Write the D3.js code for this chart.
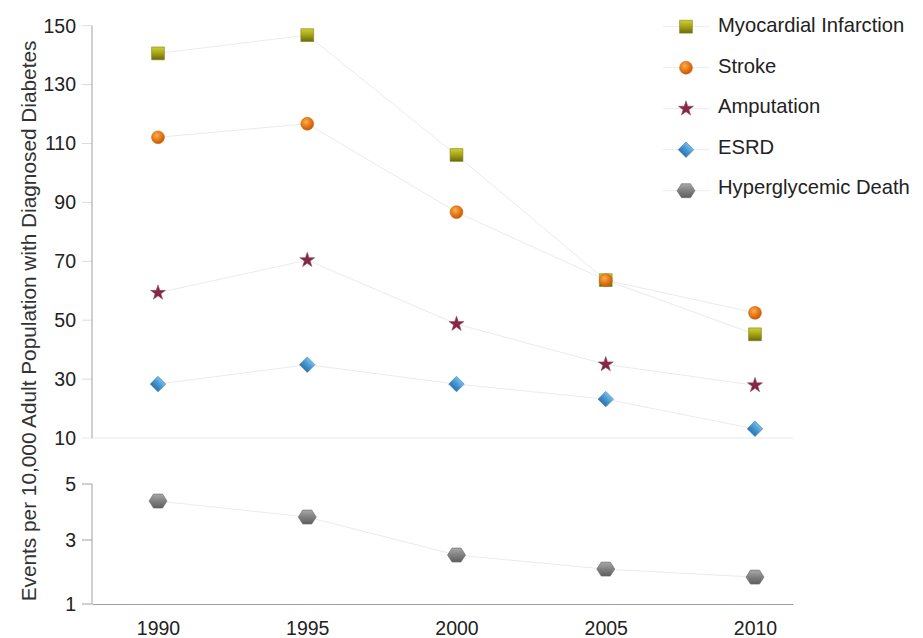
<!DOCTYPE html>
<html>
<head>
<meta charset="utf-8">
<script src="https://cdn.jsdelivr.net/npm/d3@7"></script>
<style>
  html, body { margin: 0; padding: 0; background: #fff; }
  svg { display: block; font-family: "Liberation Sans", Arial, Helvetica, sans-serif; }
</style>
</head>
<body>
<svg id="chart" width="923" height="638"></svg>
<script>
// ---- data ----
const years = [1990, 1995, 2000, 2005, 2010];
const seriesNames = ["Myocardial Infarction", "Stroke", "Amputation", "ESRD", "Hyperglycemic Death"];
const myocardial = [140.6, 146.8, 106.1, 63.6, 45.2];
const stroke = [112.1, 116.7, 86.7, 63.6, 52.5];
const amputation = [59.3, 70.4, 48.7, 35.0, 27.9];
const esrd = [28.3, 34.9, 28.3, 23.2, 13.1];
const hyperglycemic = [4.39, 3.82, 2.53, 2.09, 1.84];
const upperTicks = [10, 30, 50, 70, 90, 110, 130, 150];
const lowerTicks = [1, 3, 5];
const yTitle = "Events per 10,000 Adult Population with Diagnosed Diabetes";

// ---- layout ----
const svg = d3.select("#chart");
const axisLeft = 92, axisRight = 793;
const x = d3.scaleLinear().domain([1990, 2010]).range([158, 755]);
const xDomainExt = [x.invert(axisLeft), x.invert(axisRight)];
const xAxisScale = d3.scaleLinear().domain(xDomainExt).range([axisLeft, axisRight]);
const yTop = d3.scaleLinear().domain([10, 150]).range([438, 25.7]);
const yBot = d3.scaleLinear().domain([1, 3, 5]).range([604, 540, 484]);
const tickFont = 19.5;

// ---- gradients ----
const defs = svg.append("defs");
function linGrad(id, stops, x1, y1, x2, y2) {
  const g = defs.append("linearGradient").attr("id", id)
    .attr("x1", x1).attr("y1", y1).attr("x2", x2).attr("y2", y2);
  stops.forEach(s => g.append("stop").attr("offset", s[0]).attr("stop-color", s[1]));
}
function radGrad(id, stops, cx, cy, r) {
  const g = defs.append("radialGradient").attr("id", id)
    .attr("cx", cx).attr("cy", cy).attr("r", r);
  stops.forEach(s => g.append("stop").attr("offset", s[0]).attr("stop-color", s[1]));
}
linGrad("gSquare", [["0%", "#cfcf30"], ["45%", "#a8a818"], ["100%", "#6a6a0c"]], "0", "0", "0", "1");
radGrad("gCircle", [["0%", "#f8b050"], ["55%", "#e87a18"], ["100%", "#c45a08"]], "40%", "35%", "65%");
radGrad("gStar", [["0%", "#8a2a4a"], ["70%", "#7a1f3e"], ["100%", "#a05070"]], "50%", "50%", "60%");
linGrad("gDiamond", [["0%", "#78bde8"], ["50%", "#4596d0"], ["100%", "#2c74b0"]], "0", "0", "0", "1");
linGrad("gHex", [["0%", "#a8a8a8"], ["50%", "#808080"], ["100%", "#5e5e5e"]], "0", "0", "0", "1");

// ---- marker shapes ----
function hexPath(w, h) {
  const pts = [[-w / 2, 0], [-w / 4, -h / 2], [w / 4, -h / 2], [w / 2, 0], [w / 4, h / 2], [-w / 4, h / 2]];
  return d3.line()(pts) + "Z";
}
const markers = [
  { path: d3.symbol(d3.symbolSquare, 164)(), fill: "url(#gSquare)", stroke: "#80801a", rot: 0 },
  { path: d3.symbol(d3.symbolCircle, 130)(), fill: "url(#gCircle)", stroke: "#d06a10", rot: 0 },
  { path: d3.symbol(d3.symbolStar, 70)(), fill: "url(#gStar)", stroke: "#9a4a68", rot: 0 },
  { path: d3.symbol(d3.symbolSquare, 120)(), fill: "url(#gDiamond)", stroke: "#3a80ba", rot: 45 },
  { path: hexPath(18, 14), fill: "url(#gHex)", stroke: "#6a6a6a", rot: 0 }
];

// ---- axes ----
const upperG = svg.append("g");
upperG.selectAll("line.tick").data(upperTicks).join("line")
  .attr("x1", 82).attr("x2", d => d === 10 ? axisRight : axisLeft)
  .attr("y1", d => yTop(d)).attr("y2", d => yTop(d))
  .attr("stroke", d => d === 10 ? "#e8e8e8" : "#dcdcdc").attr("stroke-width", 1);
upperG.append("line").attr("x1", axisLeft).attr("x2", axisLeft)
  .attr("y1", yTop(150)).attr("y2", yTop(10)).attr("stroke", "#a0a0a0");
upperG.selectAll("text").data(upperTicks).join("text")
  .attr("x", 76).attr("y", d => yTop(d)).attr("dy", "0.35em")
  .attr("text-anchor", "end").attr("font-size", tickFont).attr("fill", "#222")
  .text(d => d);

const lowerG = svg.append("g");
lowerG.selectAll("line.tick").data(lowerTicks).join("line")
  .attr("x1", 82).attr("x2", axisLeft)
  .attr("y1", d => yBot(d)).attr("y2", d => yBot(d))
  .attr("stroke", "#a0a0a0");
lowerG.append("line").attr("x1", axisLeft).attr("x2", axisLeft)
  .attr("y1", yBot(5)).attr("y2", yBot(1)).attr("stroke", "#a0a0a0");
lowerG.selectAll("text").data(lowerTicks).join("text")
  .attr("x", 76).attr("y", d => yBot(d)).attr("dy", "0.35em")
  .attr("text-anchor", "end").attr("font-size", tickFont).attr("fill", "#222")
  .text(d => d);

const xAxisG = svg.append("g").attr("transform", `translate(0,${yBot(1)})`)
  .call(d3.axisBottom(xAxisScale).tickValues(years).tickSize(0).tickPadding(17).tickFormat(d3.format("d")));
xAxisG.select(".domain").attr("stroke", "#a0a0a0");
xAxisG.selectAll("text").attr("font-size", tickFont).attr("fill", "#222")
  .attr("font-family", "Liberation Sans, Arial, sans-serif");

svg.append("text")
  .attr("transform", `translate(36,321) rotate(-90)`)
  .attr("text-anchor", "middle").attr("font-size", 20.8).attr("fill", "#333")
  .text(yTitle);

// ---- series ----
const series = [
  { name: seriesNames[0], values: myocardial, y: yTop },
  { name: seriesNames[1], values: stroke, y: yTop },
  { name: seriesNames[2], values: amputation, y: yTop },
  { name: seriesNames[3], values: esrd, y: yTop },
  { name: seriesNames[4], values: hyperglycemic, y: yBot }
];

const lineGen = (ys) => d3.line().x((d, i) => x(years[i])).y(d => ys(d));
const linesG = svg.append("g");
series.forEach(s => {
  linesG.append("path").attr("d", lineGen(s.y)(s.values))
    .attr("fill", "none").attr("stroke", "#ebebeb").attr("stroke-width", 1);
});
const marksG = svg.append("g");
series.forEach((s, si) => {
  const m = markers[si];
  marksG.selectAll(null).data(s.values).join("path")
    .attr("d", m.path)
    .attr("transform", (d, i) => `translate(${x(years[i])},${s.y(d)}) rotate(${m.rot})`)
    .attr("fill", m.fill).attr("stroke", m.stroke).attr("stroke-width", 0.6);
});

// ---- legend ----
const legend = svg.append("g");
seriesNames.forEach((name, i) => {
  const my = 26.7 + i * 41;
  const ty = 25 + i * 40.6;
  legend.append("line").attr("x1", 663).attr("x2", 709).attr("y1", my).attr("y2", my)
    .attr("stroke", "#ececec");
  const m = markers[i];
  legend.append("path").attr("d", m.path)
    .attr("transform", `translate(686,${my}) rotate(${m.rot})`)
    .attr("fill", m.fill).attr("stroke", m.stroke).attr("stroke-width", 0.6);
  legend.append("text").attr("x", 718).attr("y", ty).attr("dy", "0.35em")
    .attr("font-size", 20.2).attr("fill", "#222").text(name);
});
</script>
</body>
</html>
